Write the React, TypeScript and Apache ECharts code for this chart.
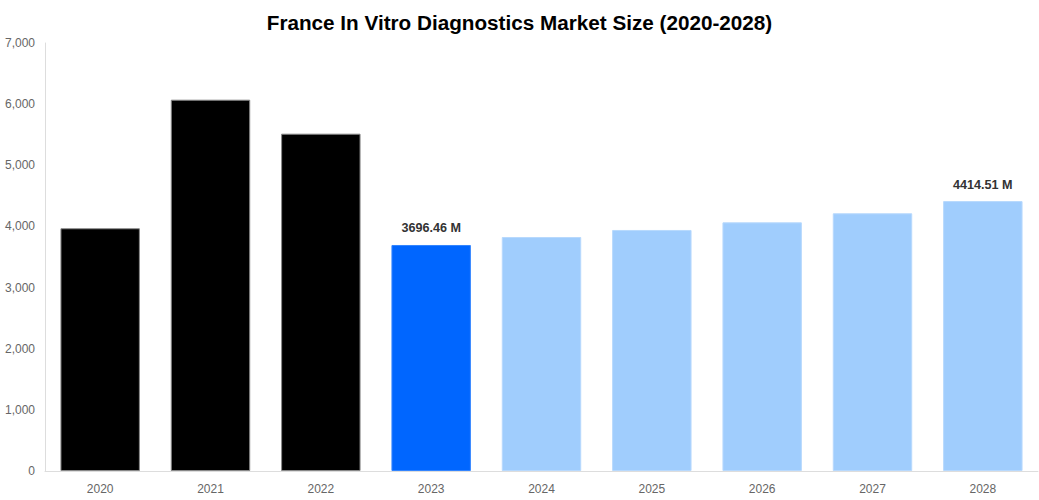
import React, { useEffect, useRef } from "react";
import * as echarts from "echarts";

const titleText = "France In Vitro Diagnostics Market Size (2020-2028)";
const years = ["2020", "2021", "2022", "2023", "2024", "2025", "2026", "2027", "2028"];
const values = [3970, 6073, 5517, 3696.46, 3827, 3942, 4067, 4215, 4414.51];
const labelledYears = ["2023", "2028"];
const historicYears = ["2020", "2021", "2022"];
const baseYear = "2023";

export default function App() {
  const ref = useRef<HTMLDivElement>(null);
  useEffect(() => {
    if (!ref.current) return;
    const chart = echarts.init(ref.current, null, { renderer: "svg" });
    const data = years.map((y, i) => {
      let color = "#a0cdfd";
      let border = "#b8d9fd";
      if (historicYears.includes(y)) {
        color = "#000000";
        border = "#888888";
      } else if (y === baseYear) {
        color = "#0066ff";
        border = "#3385ff";
      }
      return {
        value: values[i],
        itemStyle: { color, borderColor: border, borderWidth: 1 },
        label: {
          show: labelledYears.includes(y),
          position: "top",
          distance: 10,
          formatter: (p: any) => `${Number(p.value).toFixed(2)} M`,
          fontFamily: "Liberation Sans, Arial, sans-serif",
          fontWeight: "bold",
          fontSize: 12.6,
          color: "#333",
        },
      };
    });
    chart.setOption({
      animation: false,
      title: {
        text: titleText,
        left: "center",
        top: 7,
        textStyle: {
          fontFamily: "Liberation Sans, Arial, sans-serif",
          fontWeight: "bold",
          fontSize: 20.7,
          color: "#000",
        },
      },
      grid: { left: 45, right: 1, top: 43, bottom: 29, containLabel: false },
      xAxis: {
        type: "category",
        data: years,
        axisLine: { show: true, lineStyle: { color: "#ddd" } },
        axisTick: { show: false },
        axisLabel: {
          color: "#666",
          fontSize: 12,
          fontFamily: "Liberation Sans, Arial, sans-serif",
          margin: 12,
        },
      },
      yAxis: {
        type: "value",
        min: 0,
        max: 7000,
        interval: 1000,
        axisLine: { show: true, lineStyle: { color: "#ddd" } },
        axisTick: { show: false },
        splitLine: { show: false },
        axisLabel: {
          color: "#666",
          fontSize: 12,
          fontFamily: "Liberation Sans, Arial, sans-serif",
          margin: 10,
          formatter: (v: number) => v.toLocaleString("en-US"),
        },
      },
      series: [
        {
          type: "bar",
          data,
          barCategoryGap: "28%",
        },
      ],
    });
    return () => chart.dispose();
  }, []);
  return <div ref={ref} style={{ width: 1039, height: 500, position: "absolute", left: 0, top: 0 }} />;
}
